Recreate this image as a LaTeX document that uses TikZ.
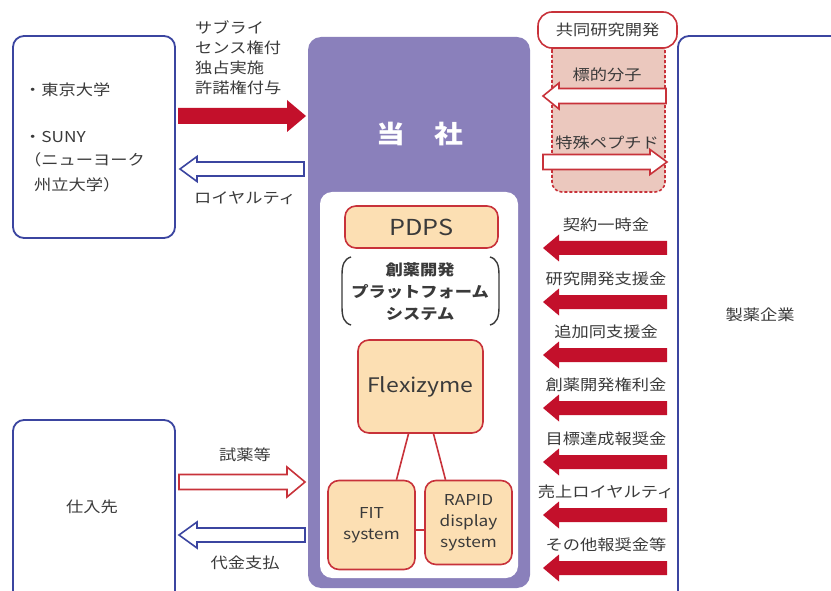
\documentclass[tikz,border=0pt]{standalone}
\usepackage{fontspec}
\setmainfont{Noto Sans CJK JP}[FakeStretch=1.15]
\definecolor{bl}{HTML}{3B45A0}
\definecolor{pu}{HTML}{8A80BB}
\definecolor{rd}{HTML}{C3102B}
\definecolor{rb}{HTML}{C8323A}
\definecolor{pe}{HTML}{FCDFB3}
\definecolor{pk}{HTML}{EBC8BE}
\definecolor{tx}{HTML}{3A3A3A}
\newcommand{\blockarrow}[7]{% style, tail x, tip x, y, shaft half, head half, head length
  \pgfmathsetmacro\myhb{#3-sign(#3-#2)*#7}
  \draw[#1] ({#2},{#4-#5}) -- (\myhb,{#4-#5}) -- (\myhb,{#4-#6}) -- ({#3},{#4})
    -- (\myhb,{#4+#6}) -- (\myhb,{#4+#5}) -- ({#2},{#4+#5}) -- cycle;}
\begin{document}
\begin{tikzpicture}[x=1pt,y=-1pt,
  lbl/.style={text=tx,font=\fontsize{15}{18}\selectfont,inner sep=0pt},
  outer/.style={draw=bl,line width=1.8pt,rounded corners=11pt,fill=white},
  sysbox/.style={draw=rb,line width=1.6pt,fill=pe,rounded corners=11pt},
  solidR/.style={fill=rd,draw=none},
  hollowB/.style={draw=bl,line width=1.6pt,fill=white},
  hollowR/.style={draw=rb,line width=1.6pt,fill=white},
  link/.style={draw=rb,line width=1.6pt}]
\useasboundingbox (0,0) rectangle (831,591);
\clip (0,0) rectangle (831,591);
% outer boxes
\draw[outer] (13,36) rectangle (175,238);
\draw[outer] (13,420) rectangle (175,640);
\draw[outer] (678,36) rectangle (900,640);
\node[coordinate] (univ) at (175,137) {};
\node[coordinate] (supp) at (175,507) {};
% main purple box
\fill[pu,rounded corners=13pt] (308,37) rectangle (530,588);
\fill[white,rounded corners=12pt] (320,192) rectangle (518,578);
\node[text=white,font=\fontsize{25}{28}\selectfont\bfseries,inner sep=0pt] (toc) at (420,134) {当　社};
% university texts
\node[lbl,anchor=west] (tokyo) at (24,90) {・東京大学};
\node[lbl,anchor=west] (suny) at (24,137) {・SUNY};
\node[lbl,anchor=west] (ny1) at (24,160) {（ニューヨーク};
\node[lbl,anchor=west] (ny2) at (34,185) {州立大学）};
\node[lbl] (shiire) at (92,507) {仕入先};
\node[lbl] (seiyaku) at (760,315) {製薬企業};
% left arrows and labels
\blockarrow{solidR}{178}{306}{116}{8}{16}{19}
\node[lbl,anchor=west] (l1) at (195,27) {サブライ};
\node[lbl,anchor=west] (l2) at (195,48) {センス権付};
\node[lbl,anchor=west] (l3) at (195,68) {独占実施};
\node[lbl,anchor=west] (l4) at (195,88) {許諾権付与};
\blockarrow{hollowB}{304}{180}{169}{7}{12.5}{17}
\node[lbl] (roy) at (245,198) {ロイヤルティ};
\blockarrow{hollowR}{179}{305}{482}{7.5}{15}{18}
\node[lbl] (shiyaku) at (245,455) {試薬等};
\blockarrow{hollowB}{305}{179}{535}{7}{13}{18}
\node[lbl] (daikin) at (245,563) {代金支払};
% joint R&D
\draw[rb,densely dashed,line width=1.6pt,fill=pk,rounded corners=10pt] (552,40) rectangle (665,192);
\node[draw=rb,line width=1.6pt,fill=white,rounded corners=14pt,minimum width=139pt,minimum height=36pt,text=tx,font=\fontsize{15}{18}\selectfont,inner sep=0pt] (joint) at (607.5,30) {共同研究開発};
\node[lbl] (hyoteki) at (607,75) {標的分子};
\blockarrow{hollowR}{666}{543}{96}{7.5}{13}{16}
\node[lbl] (tokushu) at (607,143) {特殊ペプチド};
\blockarrow{hollowR}{543}{667}{162}{7.5}{12.5}{17}
% payments
\foreach \t/\y in {契約一時金/248,研究開発支援金/302,追加同支援金/355,創薬開発権利金/408,目標達成報奨金/462,売上ロイヤルティ/515,その他報奨金等/568}{
  \blockarrow{solidR}{667}{543}{\y}{7}{13.5}{16}
  \node[lbl] at (606,\y-23) {\t};
}
% PDPS
\node[sysbox,minimum width=153pt,minimum height=42pt,text=tx,font=\fontsize{22}{26}\selectfont,inner sep=0pt] (pdps) at (421.5,227) {PDPS};
\node[lbl,align=center,font=\fontsize{15}{22}\selectfont\bfseries] (pf) at (420,292) {創薬開発\\プラットフォーム\\システム};
\draw[tx,line width=1.4pt] (351,257) .. controls (344,259) and (342,265) .. (342,275) -- (342,307) .. controls (342,317) and (344,323) .. (351,325);
\draw[tx,line width=1.4pt] (490,257) .. controls (497,259) and (499,265) .. (499,275) -- (499,307) .. controls (499,317) and (497,323) .. (490,325);
\node[sysbox,minimum width=125pt,minimum height=93pt,text=tx,font=\fontsize{20}{24}\selectfont,inner sep=0pt] (flex) at (420.5,386.5) {Flexizyme};
\node[sysbox,minimum width=87pt,minimum height=89pt,text=tx,font=\fontsize{15}{21}\selectfont,align=center,inner sep=0pt] (fit) at (371.5,525) {FIT\\system};
\node[sysbox,minimum width=87pt,minimum height=84pt,text=tx,font=\fontsize{15}{21}\selectfont,align=center,inner sep=0pt] (rapid) at (468.5,522.5) {RAPID\\display\\system};
\draw[link] ([xshift=-12pt]flex.south) -- ([xshift=25pt]fit.north);
\draw[link] ([xshift=13pt]flex.south) -- ([xshift=-23pt]rapid.north);
\draw[link] (fit.east |- 0,530) -- (rapid.west |- 0,530);
\end{tikzpicture}
\end{document}
